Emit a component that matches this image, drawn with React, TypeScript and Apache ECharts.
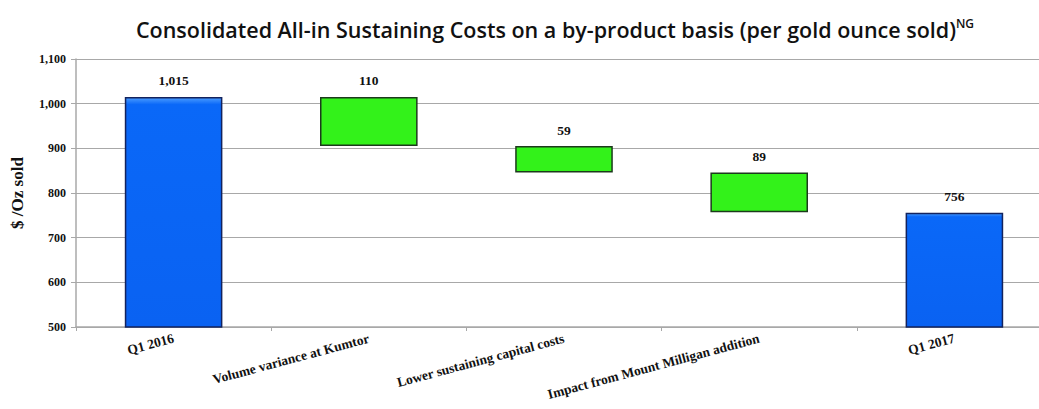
import React, { useEffect, useRef } from "react";
import * as echarts from "echarts";

const categories = [
  "Q1 2016",
  "Volume variance at Kumtor",
  "Lower sustaining capital costs",
  "Impact from Mount Milligan addition",
  "Q1 2017",
];
const startTotal = 1015;
const endTotal = 756;
const changes = [110, 59, 89];
const yTicks = { min: 500, max: 1100, interval: 100 };

const fmt = (v: number) => v.toLocaleString("en-US");

export default function App() {
  const ref = useRef<HTMLDivElement>(null);
  useEffect(() => {
    if (!ref.current) return;
    const chart = echarts.init(ref.current, undefined, { renderer: "svg" });

    const base: number[] = [0];
    const shown: any[] = [];
    const blue = {
      color: new echarts.graphic.LinearGradient(0, 0, 0, 1, [
        { offset: 0, color: "#4a9cff" },
        { offset: 0.03, color: "#0a68f8" },
        { offset: 1, color: "#0a62f2" },
      ]),
      borderColor: "#13235e",
      borderWidth: 1.5,
    };
    const green = { color: "#33f21a", borderColor: "#1c3a1c", borderWidth: 1.5 };
    shown.push({ value: startTotal, itemStyle: blue });
    let running = startTotal;
    changes.forEach((c) => {
      running -= c;
      base.push(running);
      shown.push({ value: c, itemStyle: green });
    });
    base.push(0);
    shown.push({ value: endTotal, itemStyle: blue });

    const serif = "'Liberation Serif', 'Times New Roman', serif";
    chart.setOption({
      animation: false,
      title: {
        text: "Consolidated All-in Sustaining Costs on a by-product basis (per gold ounce sold){sup|NG}",
        left: 550,
        textAlign: "center",
        top: 12,
        textStyle: {
          fontFamily: "'Open Sans', sans-serif",
          fontWeight: 600,
          fontSize: 21.5,
          color: "#111",
          rich: {
            sup: {
              fontFamily: "'Open Sans', sans-serif",
              fontWeight: 600,
              fontSize: 12,
              color: "#111",
              verticalAlign: "top",
              padding: [0, 0, 12, 0],
            },
          },
        },
      },
      grid: { left: 76, right: 0, top: 59, bottom: 82, containLabel: false },
      xAxis: {
        type: "category",
        data: categories,
        axisLine: { lineStyle: { color: "#a8a8a8", width: 1.5 } },
        axisTick: { show: true, length: 4, lineStyle: { color: "#a8a8a8" } },
        axisLabel: {
          rotate: 15,
          interval: 0,
          margin: 11,
          fontFamily: serif,
          fontWeight: "bold",
          fontSize: 13.5,
          color: "#111",
        },
      },
      yAxis: {
        type: "value",
        min: yTicks.min,
        max: yTicks.max,
        interval: yTicks.interval,
        name: "$ /Oz sold",
        nameLocation: "middle",
        nameGap: 50,
        nameTextStyle: { fontFamily: serif, fontWeight: "bold", fontSize: 17, color: "#111" },
        axisLine: { show: true, lineStyle: { color: "#a8a8a8", width: 1.5 } },
        axisTick: { show: true, length: 5, lineStyle: { color: "#a8a8a8" } },
        splitLine: { lineStyle: { color: "#a8a8a8", width: 1.2 } },
        axisLabel: {
          margin: 10,
          fontFamily: serif,
          fontWeight: "bold",
          fontSize: 12,
          color: "#111",
          formatter: (v: number) => fmt(v),
        },
      },
      series: [
        {
          type: "bar",
          stack: "w",
          data: base,
          barWidth: "50%",
          itemStyle: { color: "transparent" },
          silent: true,
        },
        {
          type: "bar",
          stack: "w",
          data: shown,
          barWidth: "50%",
          label: {
            show: true,
            position: "top",
            distance: 9,
            fontFamily: serif,
            fontWeight: "bold",
            fontSize: 13.5,
            color: "#111",
            formatter: (p: any) => fmt(p.value),
          },
        },
      ],
    });
    return () => chart.dispose();
  }, []);
  return (
    <div
      style={{ position: "fixed", left: 0, top: 0, width: 1039, height: 409, background: "#fff", overflow: "hidden" }}
    >
      <div ref={ref} style={{ width: 1052, height: 409 }} />
    </div>
  );
}
